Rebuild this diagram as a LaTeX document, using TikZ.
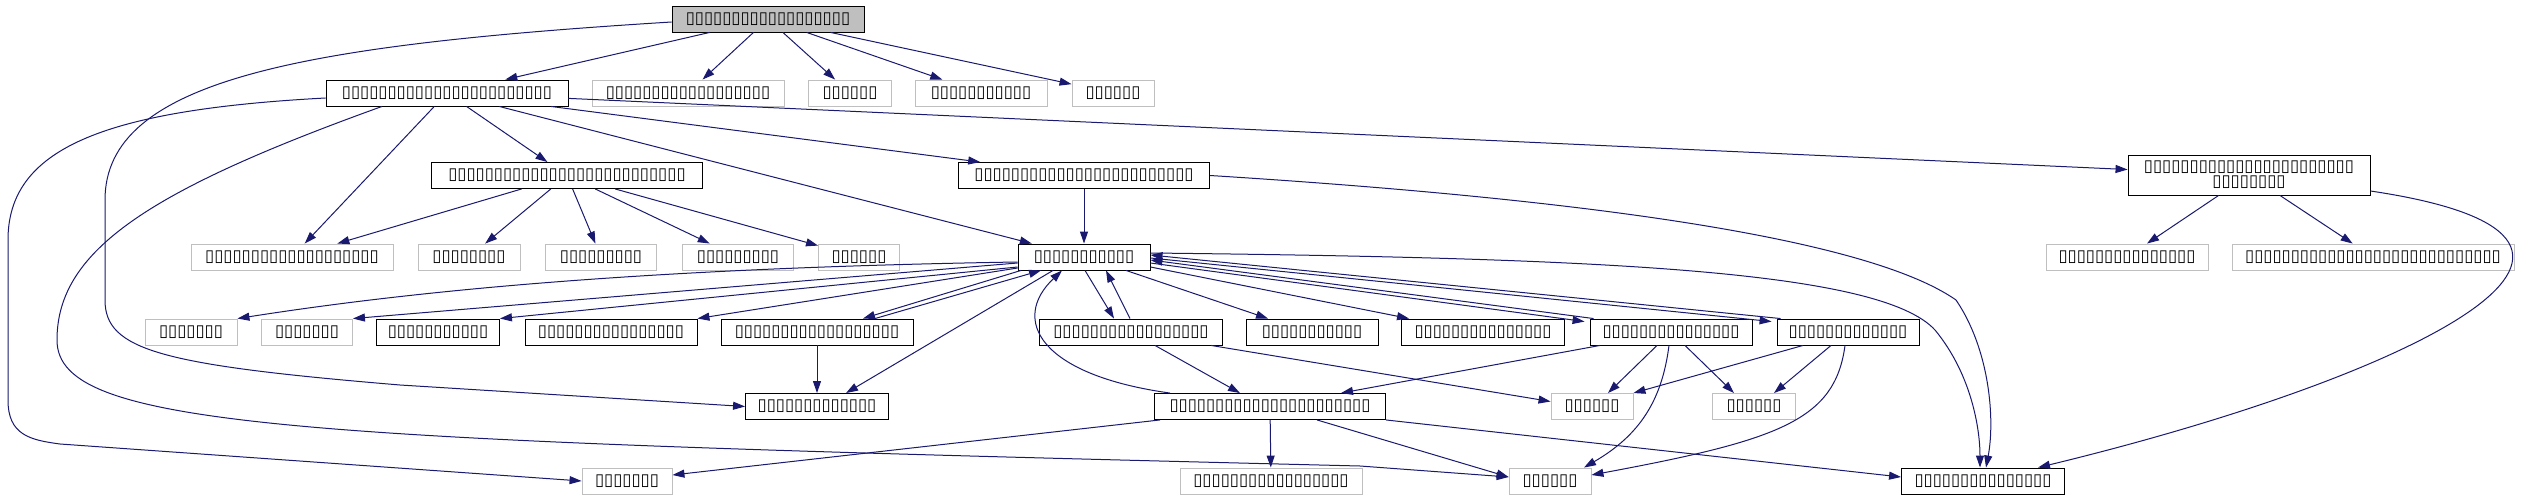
\documentclass[tikz,border=0pt]{standalone}
\usepackage{fontspec}
\usepackage{xcolor}
\usepackage{tikz}
\usetikzlibrary{arrows.meta}
\newfontfamily\boxfont{DejaVu Sans}
\definecolor{edgeblue}{HTML}{191970}
\definecolor{undocgray}{HTML}{BFBFBF}

\begin{document}
\begin{tikzpicture}[
    x=1pt, y=-1pt,
    file/.style={draw=black, line width=0.9pt, fill=white, minimum height=26pt,
      inner xsep=0pt, inner ysep=0pt, align=center,
      font=\boxfont\fontsize{16.6}{15}\selectfont},
    undoc/.style={file, draw=undocgray},
    rootfile/.style={file, fill=undocgray},
    arrow/.style={-{Triangle[length=12pt,width=8pt]}, line width=1pt, draw=edgeblue}
  ]
    \useasboundingbox (0,0) rectangle (2538,500);

    % rank 0
    \node[rootfile, minimum width=192pt] (root) at (768,19) {▯▯▯▯▯▯▯▯▯▯▯▯▯▯▯▯▯▯};
    % rank 1
    \node[file, minimum width=242pt] (na) at (447,93) {▯▯▯▯▯▯▯▯▯▯▯▯▯▯▯▯▯▯▯▯▯▯▯};
    \node[undoc, minimum width=192pt] (nb) at (688,93) {▯▯▯▯▯▯▯▯▯▯▯▯▯▯▯▯▯▯};
    \node[undoc, minimum width=83pt] (nc) at (850,93) {▯▯▯▯▯▯};
    \node[undoc, minimum width=132pt] (nd) at (981,93) {▯▯▯▯▯▯▯▯▯▯▯};
    \node[undoc, minimum width=82pt] (ne) at (1113,93) {▯▯▯▯▯▯};
    % rank 2
    \node[file, minimum width=271pt] (nf) at (567,175.5) {▯▯▯▯▯▯▯▯▯▯▯▯▯▯▯▯▯▯▯▯▯▯▯▯▯▯};
    \node[file, minimum width=251pt] (ng) at (1084,175.5) {▯▯▯▯▯▯▯▯▯▯▯▯▯▯▯▯▯▯▯▯▯▯▯▯};
    \node[file, minimum width=242pt, minimum height=40pt] (nr) at (2249,175)
      {▯▯▯▯▯▯▯▯▯▯▯▯▯▯▯▯▯▯▯▯▯▯▯\\▯▯▯▯▯▯▯▯};
    % rank 3
    \node[undoc, minimum width=202pt] (nh) at (292,257) {▯▯▯▯▯▯▯▯▯▯▯▯▯▯▯▯▯▯▯};
    \node[undoc, minimum width=102pt] (ni) at (469,257) {▯▯▯▯▯▯▯▯};
    \node[undoc, minimum width=111pt] (nj) at (601,257) {▯▯▯▯▯▯▯▯▯};
    \node[undoc, minimum width=111pt] (nk) at (738,257) {▯▯▯▯▯▯▯▯▯};
    \node[undoc, minimum width=81pt] (nl) at (859,257) {▯▯▯▯▯▯};
    \node[file, minimum width=132pt] (hub) at (1084,257) {▯▯▯▯▯▯▯▯▯▯▯};
    \node[undoc, minimum width=162pt] (nn) at (2127,257) {▯▯▯▯▯▯▯▯▯▯▯▯▯▯▯};
    \node[undoc, minimum width=282pt] (no) at (2373,257) {▯▯▯▯▯▯▯▯▯▯▯▯▯▯▯▯▯▯▯▯▯▯▯▯▯▯▯▯};
    % rank 4
    \node[undoc, minimum width=92pt] (np) at (191,332) {▯▯▯▯▯▯▯};
    \node[undoc, minimum width=91pt] (nq) at (307,332) {▯▯▯▯▯▯▯};
    \node[file, minimum width=123pt] (ns) at (438,332) {▯▯▯▯▯▯▯▯▯▯▯};
    \node[file, minimum width=172pt] (nt) at (611,332) {▯▯▯▯▯▯▯▯▯▯▯▯▯▯▯▯};
    \node[file, minimum width=192pt] (nu) at (817,332) {▯▯▯▯▯▯▯▯▯▯▯▯▯▯▯▯▯▯};
    \node[file, minimum width=183pt] (nv) at (1131,332) {▯▯▯▯▯▯▯▯▯▯▯▯▯▯▯▯▯};
    \node[file, minimum width=132pt] (nw) at (1312,332) {▯▯▯▯▯▯▯▯▯▯▯};
    \node[file, minimum width=163pt] (nx) at (1483,332) {▯▯▯▯▯▯▯▯▯▯▯▯▯▯▯};
    \node[file, minimum width=162pt] (ny) at (1671,332) {▯▯▯▯▯▯▯▯▯▯▯▯▯▯▯};
    \node[file, minimum width=142pt] (nz) at (1848,332) {▯▯▯▯▯▯▯▯▯▯▯▯▯};
    % rank 5
    \node[file, minimum width=143pt] (naa) at (817,406.5) {▯▯▯▯▯▯▯▯▯▯▯▯▯};
    \node[file, minimum width=231pt] (nab) at (1270,406.5) {▯▯▯▯▯▯▯▯▯▯▯▯▯▯▯▯▯▯▯▯▯▯};
    \node[undoc, minimum width=82pt] (nbb) at (1592,406.5) {▯▯▯▯▯▯};
    \node[undoc, minimum width=83pt] (ncc) at (1754,406.5) {▯▯▯▯▯▯};
    % rank 6
    \node[undoc, minimum width=90pt] (ndd) at (627,481) {▯▯▯▯▯▯▯};
    \node[undoc, minimum width=182pt] (nee) at (1271,481) {▯▯▯▯▯▯▯▯▯▯▯▯▯▯▯▯▯};
    \node[undoc, minimum width=82pt] (nff) at (1550,481) {▯▯▯▯▯▯};
    \node[file, minimum width=163pt] (ngg) at (1983,481) {▯▯▯▯▯▯▯▯▯▯▯▯▯▯▯};

    % from the root file
    \draw[arrow] (root) -- (na);
    \draw[arrow] (root) -- (nb);
    \draw[arrow] (root) -- (nc);
    \draw[arrow] (root) -- (nd);
    \draw[arrow] (root) -- (ne);
    \draw[arrow] ([yshift=-3pt]root.west) .. controls (300,45) and (105,80) .. (105,200)
      -- (105,300) .. controls (105,350) and (160,365) .. (400,385) -- (naa.west);

    % from na
    \draw[arrow] ([yshift=-5pt]na.west) .. controls (100,110) and (8,150) .. (8,240)
      -- (8,400) .. controls (8,435) and (30,440) .. (60,444) -- (ndd.west);
    \draw[arrow] ([xshift=-65pt]na.south) .. controls (150,190) and (57,250) .. (57,340)
      .. controls (57,430) and (300,440) .. (1360,466) -- ([yshift=4pt]nff.west);
    \draw[arrow] (na) -- (nh);
    \draw[arrow] (na) -- (nf);
    \draw[arrow] (na) -- (hub);
    \draw[arrow] (na) -- (ng);
    \draw[arrow] (na) -- (nr);

    % from nf
    \foreach \t in {nh,ni,nj,nk,nl}
      \draw[arrow] (nf) -- (\t);

    % from ng and nr
    \draw[arrow] (ng) -- (hub);
    \draw[arrow] (ng.east) .. controls (1600,200) and (1870,240) .. (1956,300)
      .. controls (1990,350) and (1995,420) .. ([xshift=3pt]ngg.north);
    \draw[arrow] (nr) -- (nn);
    \draw[arrow] (nr) -- (no);
    \draw[arrow] ([yshift=-16pt]nr.east) .. controls (2700,240) and (2400,380) .. ([xshift=55pt]ngg.north);

    % from the hub
    \draw[arrow] ([yshift=-5pt]hub.west) .. controls (650,268) and (420,290) .. (np.north east);
    \draw[arrow] ([yshift=-6pt]hub.west) -- (nq.north east);
    \draw[arrow] ([yshift=-10pt]hub.west) -- (ns.north east);
    \draw[arrow] ([yshift=-11pt]hub.west) -- (nt.north east);
    \draw[arrow] ([xshift=-63pt]hub.south) -- ([xshift=46pt]nu.north);
    \draw[arrow] ([xshift=58pt]nu.north) -- ([xshift=-43pt]hub.south);
    \draw[arrow] ([xshift=-31pt]hub.south) -- ([xshift=29pt]naa.north);
    \draw[arrow] ([xshift=1pt]hub.south) -- ([xshift=-17pt]nv.north);
    \draw[arrow] ([xshift=-1pt]nv.north) -- ([xshift=22pt]hub.south);
    \draw[arrow] ([xshift=42pt]hub.south) -- ([xshift=-44pt]nw.north);
    \draw[arrow] ([yshift=-10pt]hub.east) -- ([xshift=8pt]nx.north west);
    \draw[arrow] ([yshift=-6pt]hub.east) -- ([xshift=-5pt,yshift=-3pt]ny.north west);
    \draw[arrow] ([xshift=4pt]ny.north west) -- ([yshift=-3pt]hub.east);
    \draw[arrow] ([yshift=-1pt]hub.east) -- ([xshift=-5pt,yshift=-3pt]nz.north west);
    \draw[arrow] ([xshift=4pt]nz.north west) -- ([yshift=2pt]hub.east);
    \draw[arrow] ([yshift=4pt]hub.east) .. controls (1600,258) and (1880,270) .. (1935,330)
      .. controls (1972,375) and (1980,430) .. ([xshift=-3pt]ngg.north);

    % lower ranks
    \draw[arrow] (nu) -- (naa);
    \draw[arrow] ([xshift=24pt]nv.south) -- ([xshift=-30pt]nab.north);
    \draw[arrow] ([xshift=80pt]nv.south) -- ([yshift=5pt]nbb.west);
    \draw[arrow] ([xshift=-71pt]ny.south) -- ([xshift=71pt]nab.north);
    \draw[arrow] ([xshift=-14pt]ny.south) -- ([xshift=16pt]nbb.north);
    \draw[arrow] ([xshift=14pt]ny.south) -- ([xshift=-20pt]ncc.north);
    \draw[arrow] ([xshift=-2pt]ny.south) .. controls (1662,400) and (1640,435) .. ([xshift=34pt]nff.north);
    \draw[arrow] ([xshift=-45pt]nz.south) -- (nbb.north east);
    \draw[arrow] ([xshift=-17pt]nz.south) -- ([xshift=20pt]ncc.north);
    \draw[arrow] ([xshift=-3pt]nz.south) .. controls (1835,420) and (1780,440) .. ([yshift=6pt]nff.east);
    \draw[arrow] ([xshift=-100pt]nab.north) .. controls (1040,375) and (1010,320) .. ([xshift=-22pt]hub.south);
    \draw[arrow] ([xshift=-110pt]nab.south) -- ([yshift=6pt]ndd.east);
    \draw[arrow] (nab) -- (nee);
    \draw[arrow] ([xshift=47pt]nab.south) -- ([yshift=4pt]nff.west);
    \draw[arrow] (nab.south east) -- ([yshift=4pt]ngg.west);
\end{tikzpicture}
\end{document}
